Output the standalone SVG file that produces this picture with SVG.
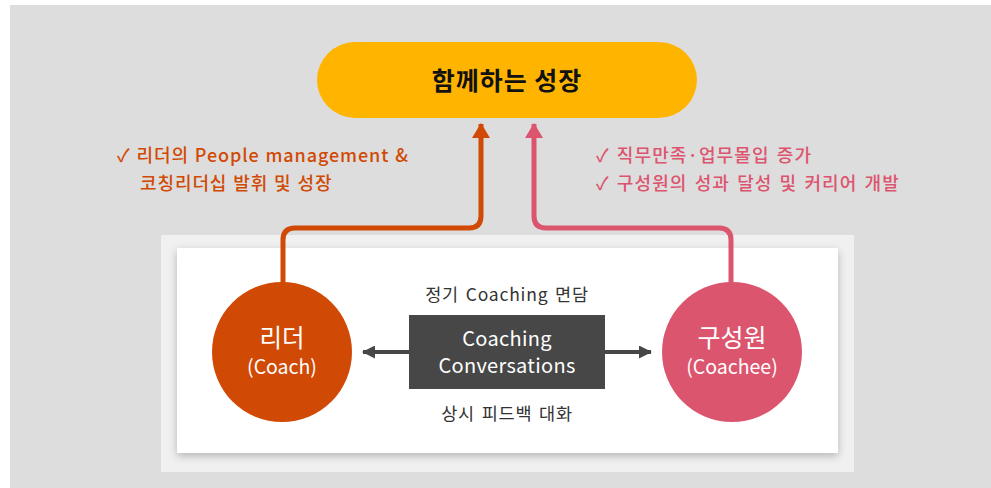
<svg xmlns="http://www.w3.org/2000/svg" width="991" height="488" viewBox="0 0 991 488">
<defs>
<style>
text{font-family:"Noto Sans CJK KR","Liberation Sans",sans-serif;}
.lbl{font-size:17.5px;fill:#333;text-anchor:middle;letter-spacing:0.8px;word-spacing:2px;}
.orange{font-size:18px;fill:#D14A05;font-weight:500;letter-spacing:0.9px;word-spacing:1px;}
.pink{font-size:18px;fill:#DC546E;font-weight:500;letter-spacing:1.1px;word-spacing:2px;}
.wt{fill:#fff;text-anchor:middle;}
</style>
<marker id="ao" markerWidth="18" markerHeight="15" refX="9" refY="1" markerUnits="userSpaceOnUse" viewBox="0 0 18 15">
<path d="M0,15 L9,0 L18,15 Z" fill="#D14A05"/>
</marker>
<marker id="ap" markerWidth="18" markerHeight="15" refX="9" refY="1" markerUnits="userSpaceOnUse" viewBox="0 0 18 15">
<path d="M0,15 L9,0 L18,15 Z" fill="#DC556E"/>
</marker>
<marker id="ag" markerWidth="13" markerHeight="13" refX="12" refY="6.5" orient="auto" markerUnits="userSpaceOnUse" viewBox="0 0 13 13">
<path d="M0,0 L13,6.5 L0,13 Z" fill="#474747"/>
</marker>
<filter id="sh" x="-5%" y="-5%" width="110%" height="115%">
<feGaussianBlur in="SourceAlpha" stdDeviation="4"/>
<feOffset dx="0" dy="3"/>
<feComponentTransfer><feFuncA type="linear" slope="0.25"/></feComponentTransfer>
<feMerge><feMergeNode/><feMergeNode in="SourceGraphic"/></feMerge>
</filter>
</defs>
<rect x="10" y="5" width="981" height="483" fill="#DDDDDD"/>
<rect x="161" y="235" width="693" height="237" fill="#F0F0F0"/>
<rect x="177" y="248" width="661" height="205" fill="#FFFFFF" filter="url(#sh)"/>

<g id="connectors">
<path d="M283,284 V240 Q283,228 295,228 H469 Q481,228 481,216 V124" fill="none" stroke="#D14A05" stroke-width="5" marker-end="url(#ao)"/>
<path d="M731,284 V240 Q731,228 719,228 H546 Q534,228 534,216 V124" fill="none" stroke="#DC556E" stroke-width="5" marker-end="url(#ap)"/>
<line x1="409" y1="352" x2="363" y2="352" stroke="#474747" stroke-width="4" marker-end="url(#ag)"/>
<line x1="605" y1="352" x2="651" y2="352" stroke="#474747" stroke-width="4" marker-end="url(#ag)"/>
</g>

<g id="goal">
<rect x="317" y="42" width="380" height="76" rx="38" fill="#FFB500"/>
<text x="507" y="90" text-anchor="middle" font-size="25" font-weight="bold" fill="#111" letter-spacing="1">함께하는 성장</text>
</g>

<g id="leader-benefit">
<text class="orange" x="117" y="162">✓ 리더의 People management &amp;</text>
<text class="orange" x="140" y="190">코칭리더십 발휘 및 성장</text>
</g>

<g id="member-benefit">
<text class="pink" x="596" y="162">✓ 직무만족·업무몰입 증가</text>
<text class="pink" x="596" y="190">✓ 구성원의 성과 달성 및 커리어 개발</text>
</g>

<g id="leader">
<circle cx="282" cy="352" r="70" fill="#D14A05"/>
<text class="wt" x="282" y="347" font-size="24.5">리더</text>
<text class="wt" x="282" y="374" font-size="19.5">(Coach)</text>
</g>

<g id="member">
<circle cx="732" cy="352" r="70" fill="#DC556E"/>
<text class="wt" x="732" y="347" font-size="25">구성원</text>
<text class="wt" x="732" y="374" font-size="19.5">(Coachee)</text>
</g>

<g id="conversation">
<rect x="409" y="315" width="196" height="74" fill="#474747"/>
<text class="wt" x="507" y="346" font-size="20" letter-spacing="0.3">Coaching</text>
<text class="wt" x="507" y="373" font-size="20" letter-spacing="0.3">Conversations</text>
</g>

<g id="labels">
<text class="lbl" x="507" y="301">정기 Coaching 면담</text>
<text class="lbl" x="507" y="420">상시 피드백 대화</text>
</g>
</svg>
